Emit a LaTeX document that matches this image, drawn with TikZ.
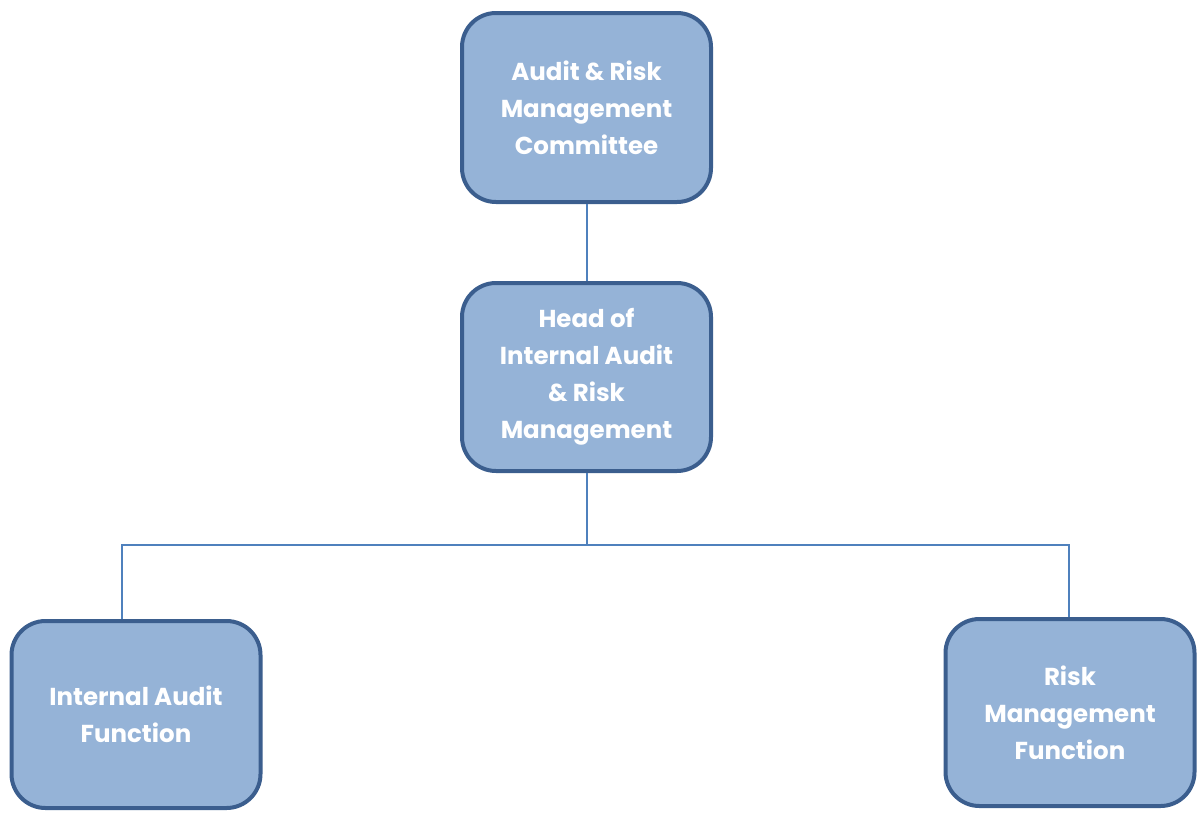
\documentclass[tikz,border=0pt]{standalone}
\usepackage{fontspec}
\setmainfont{Poppins}
\definecolor{boxfill}{HTML}{95B3D7}
\definecolor{boxline}{HTML}{3B5E8E}
\definecolor{conn}{HTML}{4F81BD}
\begin{document}
\begin{tikzpicture}[x=1pt,y=-1pt,
  orgbox/.style={draw=boxline, fill=boxfill, line width=4pt, rounded corners=34pt,
    minimum width=249pt, inner sep=0pt, align=center, text=white,
    font=\fontsize{24.5}{37}\selectfont\bfseries},
  link/.style={draw=conn, line width=2pt}]
\useasboundingbox (0,0) rectangle (1198,814);
\node[orgbox, minimum height=189pt] (arc) at (586.5,107.5) {Audit \& Risk\\Management\\Committee};
\node[orgbox, minimum height=188pt] (head) at (586.5,377) {Head of\\Internal Audit\\\& Risk\\Management};
\node[orgbox, minimum height=187pt] (iaf) at (136,714.5) {Internal Audit\\Function};
\node[orgbox, minimum height=187pt] (rmf) at (1070,712.5) {Risk\\Management\\Function};
\coordinate (mid) at (586.5,545);
\draw[link] (arc.south) -- (head.north);
\draw[link] (head.south) -- (mid);
\draw[link] (mid) -| ([xshift=-14pt]iaf.north);
\draw[link] (mid) -| ([xshift=-1pt]rmf.north);
\end{tikzpicture}
\end{document}
